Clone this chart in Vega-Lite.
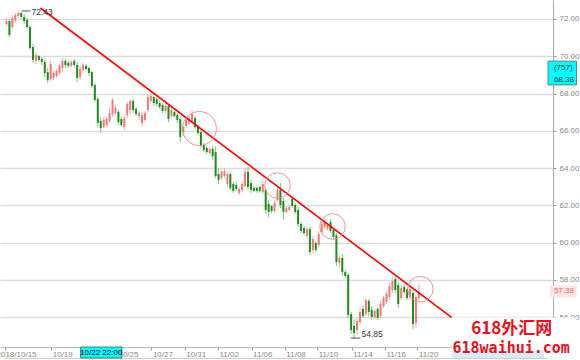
{
  "$schema": "https://vega.github.io/schema/vega-lite/v6.json",
  "width": 553,
  "height": 347,
  "autosize": {"type": "none"},
  "padding": {"left": 0, "top": 0, "right": 27, "bottom": 13},
  "background": "white",
  "config": {"view": {"stroke": null}, "font": "Liberation Sans", "axis": {"labelFont": "Liberation Sans"}},
  "datasets": {
    "candles": [
      {"i":0,"o":71.73,"h":72.05,"l":71.62,"c":71.89},{"i":1,"o":71.89,"h":72.00,"l":71.03,"c":71.14},{"i":2,"o":71.57,"h":72.21,"l":71.46,"c":72.05},{"i":3,"o":71.95,"h":72.32,"l":71.79,"c":72.21},{"i":4,"o":72.16,"h":72.43,"l":72.05,"c":72.32},
      {"i":5,"o":72.32,"h":72.38,"l":72.00,"c":72.11},{"i":6,"o":72.11,"h":72.27,"l":71.73,"c":71.89},{"i":7,"o":71.95,"h":72.05,"l":71.46,"c":71.57},{"i":8,"o":71.57,"h":71.68,"l":70.34,"c":70.44},{"i":9,"o":70.50,"h":70.66,"l":69.64,"c":69.80},
      {"i":10,"o":69.75,"h":70.17,"l":69.58,"c":70.07},{"i":11,"o":70.01,"h":70.07,"l":69.69,"c":69.80},{"i":12,"o":69.85,"h":69.96,"l":69.53,"c":69.69},{"i":13,"o":69.69,"h":69.80,"l":68.89,"c":69.10},{"i":14,"o":69.15,"h":69.37,"l":68.56,"c":68.72},
      {"i":15,"o":68.78,"h":69.80,"l":68.67,"c":69.58},{"i":16,"o":68.83,"h":69.21,"l":68.72,"c":69.10},{"i":17,"o":68.94,"h":69.32,"l":68.83,"c":69.21},{"i":18,"o":69.10,"h":69.58,"l":68.99,"c":69.48},{"i":19,"o":69.37,"h":69.91,"l":69.15,"c":69.75},
      {"i":20,"o":69.75,"h":69.85,"l":69.37,"c":69.53},{"i":21,"o":69.64,"h":69.75,"l":69.37,"c":69.48},{"i":22,"o":69.48,"h":69.80,"l":69.42,"c":69.69},{"i":23,"o":69.75,"h":69.85,"l":69.42,"c":69.53},{"i":24,"o":69.53,"h":69.69,"l":68.62,"c":68.83},
      {"i":25,"o":68.89,"h":69.48,"l":68.72,"c":69.32},{"i":26,"o":69.26,"h":69.64,"l":69.10,"c":69.53},{"i":27,"o":69.48,"h":69.58,"l":69.21,"c":69.32},{"i":28,"o":69.37,"h":69.42,"l":68.94,"c":69.10},{"i":29,"o":69.15,"h":69.21,"l":68.30,"c":68.40},
      {"i":30,"o":68.46,"h":68.56,"l":67.54,"c":67.65},{"i":31,"o":67.70,"h":67.81,"l":66.20,"c":66.42},{"i":32,"o":66.52,"h":66.74,"l":65.88,"c":66.15},{"i":33,"o":66.20,"h":66.74,"l":66.15,"c":66.58},{"i":34,"o":66.31,"h":66.74,"l":66.20,"c":66.63},
      {"i":35,"o":66.52,"h":67.22,"l":66.42,"c":66.95},{"i":36,"o":66.90,"h":67.76,"l":66.74,"c":67.65},{"i":37,"o":66.95,"h":67.38,"l":66.85,"c":67.22},{"i":38,"o":67.01,"h":67.11,"l":66.31,"c":66.47},{"i":39,"o":66.63,"h":66.74,"l":66.20,"c":66.31},
      {"i":40,"o":66.20,"h":66.85,"l":66.04,"c":66.68},{"i":41,"o":66.85,"h":67.54,"l":66.68,"c":67.44},{"i":42,"o":67.11,"h":67.70,"l":66.85,"c":67.60},{"i":43,"o":67.60,"h":67.70,"l":66.95,"c":67.11},{"i":44,"o":67.17,"h":67.28,"l":66.79,"c":66.90},
      {"i":45,"o":66.79,"h":67.06,"l":66.58,"c":66.95},{"i":46,"o":66.42,"h":67.01,"l":66.20,"c":66.85},{"i":47,"o":66.58,"h":67.06,"l":66.47,"c":66.95},{"i":48,"o":67.11,"h":67.97,"l":67.01,"c":67.81},{"i":49,"o":67.60,"h":67.97,"l":67.49,"c":67.87},
      {"i":50,"o":67.81,"h":67.87,"l":67.33,"c":67.49},{"i":51,"o":67.70,"h":67.81,"l":67.28,"c":67.44},{"i":52,"o":67.49,"h":67.60,"l":67.17,"c":67.28},{"i":53,"o":67.38,"h":67.49,"l":66.95,"c":67.06},{"i":54,"o":67.06,"h":67.44,"l":66.95,"c":67.33},
      {"i":55,"o":67.33,"h":67.44,"l":66.47,"c":66.63},{"i":56,"o":66.79,"h":67.22,"l":66.68,"c":67.11},{"i":57,"o":67.01,"h":67.06,"l":66.68,"c":66.79},{"i":58,"o":66.85,"h":66.95,"l":66.42,"c":66.58},{"i":59,"o":66.63,"h":66.74,"l":65.40,"c":65.66},
      {"i":60,"o":65.93,"h":66.31,"l":65.72,"c":66.20},{"i":61,"o":66.26,"h":66.74,"l":66.15,"c":66.58},{"i":62,"o":66.42,"h":66.79,"l":66.31,"c":66.68},{"i":63,"o":66.52,"h":67.11,"l":66.42,"c":66.90},{"i":64,"o":66.68,"h":66.79,"l":66.09,"c":66.20},
      {"i":65,"o":66.20,"h":66.31,"l":65.77,"c":65.88},{"i":66,"o":65.93,"h":66.04,"l":65.07,"c":65.18},{"i":67,"o":65.24,"h":65.34,"l":64.86,"c":64.97},{"i":68,"o":65.07,"h":65.18,"l":64.75,"c":64.86},{"i":69,"o":64.81,"h":65.13,"l":64.70,"c":65.02},
      {"i":70,"o":65.02,"h":65.18,"l":64.43,"c":64.64},{"i":71,"o":64.86,"h":65.18,"l":63.46,"c":63.57},{"i":72,"o":63.68,"h":64.00,"l":63.14,"c":63.36},{"i":73,"o":63.46,"h":63.89,"l":63.36,"c":63.79},{"i":74,"o":63.57,"h":64.00,"l":63.46,"c":63.84},
      {"i":75,"o":63.14,"h":63.79,"l":62.98,"c":63.68},{"i":76,"o":63.68,"h":63.79,"l":62.82,"c":62.93},{"i":77,"o":63.14,"h":63.25,"l":62.66,"c":62.77},{"i":78,"o":63.09,"h":63.25,"l":62.77,"c":62.87},{"i":79,"o":62.66,"h":62.98,"l":62.55,"c":62.87},
      {"i":80,"o":62.82,"h":63.30,"l":62.71,"c":63.14},{"i":81,"o":63.03,"h":63.95,"l":62.93,"c":63.79},{"i":82,"o":63.79,"h":64.05,"l":62.82,"c":62.98},{"i":83,"o":63.19,"h":63.36,"l":62.66,"c":62.82},{"i":84,"o":62.93,"h":63.03,"l":62.71,"c":62.77},
      {"i":85,"o":62.93,"h":63.03,"l":62.66,"c":62.77},{"i":86,"o":62.98,"h":63.09,"l":62.66,"c":62.77},{"i":87,"o":62.71,"h":63.36,"l":62.60,"c":63.14},{"i":88,"o":62.82,"h":62.93,"l":61.53,"c":61.75},{"i":89,"o":62.07,"h":62.28,"l":61.37,"c":61.64},
      {"i":90,"o":61.96,"h":62.01,"l":61.58,"c":61.69},{"i":91,"o":61.69,"h":62.28,"l":61.58,"c":62.12},{"i":92,"o":62.28,"h":63.03,"l":62.17,"c":62.82},{"i":93,"o":62.82,"h":63.19,"l":61.85,"c":62.01},{"i":94,"o":62.23,"h":62.39,"l":61.21,"c":61.64},
      {"i":95,"o":61.64,"h":61.96,"l":61.58,"c":61.85},{"i":96,"o":61.75,"h":62.01,"l":61.69,"c":61.91},{"i":97,"o":62.34,"h":62.44,"l":61.85,"c":61.96},{"i":98,"o":62.01,"h":62.12,"l":61.53,"c":61.64},{"i":99,"o":61.75,"h":61.91,"l":60.83,"c":60.99},
      {"i":100,"o":60.99,"h":61.10,"l":60.51,"c":60.62},{"i":101,"o":60.78,"h":60.89,"l":60.40,"c":60.51},{"i":102,"o":60.35,"h":60.83,"l":60.24,"c":60.72},{"i":103,"o":60.72,"h":60.83,"l":59.33,"c":59.49},{"i":104,"o":59.60,"h":60.35,"l":59.44,"c":60.19},
      {"i":105,"o":59.97,"h":60.08,"l":59.49,"c":59.60},{"i":106,"o":59.87,"h":60.62,"l":59.76,"c":60.46},{"i":107,"o":60.56,"h":61.15,"l":60.46,"c":60.99},{"i":108,"o":60.83,"h":61.26,"l":60.72,"c":61.10},{"i":109,"o":60.72,"h":61.05,"l":60.62,"c":60.94},
      {"i":110,"o":61.10,"h":61.26,"l":60.51,"c":60.62},{"i":111,"o":60.67,"h":60.78,"l":60.13,"c":60.30},{"i":112,"o":60.40,"h":60.51,"l":58.74,"c":58.95},{"i":113,"o":58.90,"h":59.33,"l":58.68,"c":59.17},{"i":114,"o":59.17,"h":59.38,"l":58.20,"c":58.42},
      {"i":115,"o":58.42,"h":58.52,"l":58.09,"c":58.20},{"i":116,"o":58.26,"h":58.36,"l":55.95,"c":56.11},{"i":117,"o":56.16,"h":56.27,"l":55.09,"c":55.30},{"i":118,"o":55.52,"h":55.89,"l":54.85,"c":55.14},{"i":119,"o":55.30,"h":55.95,"l":55.09,"c":55.79},
      {"i":120,"o":55.73,"h":56.48,"l":55.57,"c":56.27},{"i":121,"o":56.43,"h":56.59,"l":55.95,"c":56.05},{"i":122,"o":56.16,"h":57.02,"l":56.05,"c":56.91},{"i":123,"o":56.86,"h":56.97,"l":56.05,"c":56.27},{"i":124,"o":56.38,"h":56.59,"l":55.84,"c":56.00},
      {"i":125,"o":56.00,"h":56.43,"l":55.89,"c":56.32},{"i":126,"o":56.43,"h":56.54,"l":55.84,"c":55.95},{"i":127,"o":56.05,"h":56.86,"l":55.95,"c":56.70},{"i":128,"o":56.59,"h":57.13,"l":56.48,"c":57.02},{"i":129,"o":56.81,"h":57.40,"l":56.70,"c":57.24},
      {"i":130,"o":57.07,"h":57.82,"l":56.91,"c":57.66},{"i":131,"o":57.45,"h":58.15,"l":57.29,"c":57.93},{"i":132,"o":58.04,"h":58.20,"l":57.29,"c":57.45},{"i":133,"o":57.72,"h":57.88,"l":56.48,"c":56.70},{"i":134,"o":57.02,"h":57.72,"l":56.91,"c":57.56},
      {"i":135,"o":57.61,"h":57.72,"l":57.24,"c":57.34},{"i":136,"o":57.50,"h":57.61,"l":56.91,"c":57.02},{"i":137,"o":57.07,"h":57.66,"l":56.91,"c":57.50},{"i":138,"o":57.29,"h":57.45,"l":55.36,"c":55.62},{"i":139,"o":55.68,"h":57.18,"l":55.41,"c":57.07},
      {"i":140,"o":57.02,"h":57.77,"l":56.91,"c":57.38}
    ],
    "trend": [{"i":11.5,"v":72.59},{"i":151.17,"v":55.97}],
    "bigCircle": [{"i":65.5,"v":66.12}],
    "smallCircles": [{"i":92.0,"v":63.06},{"i":110.67,"v":60.86},{"i":140.5,"v":57.50}],
    "markers": [{"i":5.17,"i2":8.17,"v":72.43},{"i":116.8,"i2":120.2,"v":54.87}],
    "priceTexts": [{"i":8.5,"v":72.38,"t":"72.43"},{"i":120.5,"v":55.09,"t":"54.85"}],
    "cyanBox": [{"i":183.83,"i2":193.5,"v":69.74,"v2":68.46}],
    "cyanTexts": [{"i":185.83,"v":69.37,"t":"(757)"},{"i":185.83,"v":68.72,"t":"68.38"}],
    "pinkBox": [{"i":184.5,"i2":193.5,"v":57.69,"v2":57.07}],
    "pinkText": [{"i":185.83,"v":57.38,"t":"57.38"}],
    "timeBox": [{"i":25.17,"i2":39.17,"v":54.39,"v2":53.80}],
    "timeText": [{"i":32.17,"v":54.09,"t":"10/22 22:00"}],
    "blueBox": [{"i":151.17,"i2":182.5,"v":54.39,"v2":53.80}],
    "whiteBox": [{"i":151.17,"i2":193.5,"v":55.97,"v2":54.20}],
    "bottomLine": [{"i":-0.5,"i2":183.83,"v":53.77}],
    "wm1": [{"i":171.5,"v":55.38,"t":"618外汇网"}],
    "wm2": [{"i":171.33,"v":54.36,"t":"618waihui.com"}]
  },
  "encoding": {
    "x": {"field": "i", "type": "quantitative", "scale": {"domain": [-0.5, 183.83], "nice": false, "zero": false},
      "axis": {"orient": "bottom", "title": null, "grid": false,
        "values": [-0.5, 15.2, 37.5, 49.2, 60.5, 71.8, 83.2, 94.5, 105.5, 117.2, 128.5, 139.5],
        "labelExpr": "datum.value < 0 ? '2018/10/15' : datum.value < 20 ? '10/19' : datum.value < 40 ? '10/25' : datum.value < 55 ? '10/27' : datum.value < 65 ? '10/31' : datum.value < 75 ? '11/02' : datum.value < 90 ? '11/06' : datum.value < 100 ? '11/08' : datum.value < 110 ? '11/10' : datum.value < 120 ? '11/14' : datum.value < 130 ? '11/16' : '11/20'",
        "labelAlign": "left", "labelBaseline": "top",
        "labelOffset": {"condition": {"test": "datum.value < 0", "value": -9}, "value": 1},
        "labelFontSize": 8, "labelColor": "#888888", "labelPadding": 0,
        "tickSize": 3, "tickColor": "#999999", "domainColor": "#bbbbbb",
        "labelOverlap": false, "labelFlush": false, "labelBound": false}}
  },
  "layer": [
    {
      "data": {"name": "candles"},
      "mark": {"type": "rule", "strokeWidth": 1},
      "encoding": {
        "y": {"field": "l", "type": "quantitative", "scale": {"domain": [54.39, 73.02], "nice": false, "zero": false},
          "axis": {"orient": "right", "title": null, "values": [56, 58, 60, 62, 64, 66, 68, 70, 72], "format": ".2f",
            "labelFontSize": 8, "labelColor": "#888888", "labelPadding": 3, "tickSize": 3, "tickColor": "#999999",
            "domainColor": "#aaaaaa", "grid": true, "gridColor": "#dcdcdc", "gridWidth": 1.5}},
        "y2": {"field": "h"},
        "color": {"condition": {"test": "datum.c < datum.o", "value": "#7fc47f"}, "value": "#f5a8a8"}
      }
    },
    {
      "data": {"name": "candles"},
      "mark": {"type": "bar", "size": 2},
      "encoding": {
        "y": {"field": "o", "type": "quantitative", "scale": {"domain": [54.39, 73.02], "nice": false, "zero": false}},
        "y2": {"field": "c"},
        "color": {"condition": {"test": "datum.c < datum.o", "value": "#1e8c1e"}, "value": "#f07878"}
      }
    },
    {
      "data": {"name": "trend"},
      "mark": {"type": "line", "color": "#ff0000", "strokeWidth": 1.6},
      "encoding": {
        "y": {"field": "v", "type": "quantitative", "scale": {"domain": [54.39, 73.02], "nice": false, "zero": false}}
      }
    },
    {
      "data": {"name": "bigCircle"},
      "mark": {"type": "point", "shape": "circle", "filled": false, "size": 1156, "stroke": "#f08a8a", "strokeWidth": 1, "opacity": 0.9},
      "encoding": {
        "y": {"field": "v", "type": "quantitative", "scale": {"domain": [54.39, 73.02], "nice": false, "zero": false}}
      }
    },
    {
      "data": {"name": "smallCircles"},
      "mark": {"type": "point", "shape": "circle", "filled": false, "size": 650, "stroke": "#f08a8a", "strokeWidth": 1, "opacity": 0.9},
      "encoding": {
        "y": {"field": "v", "type": "quantitative", "scale": {"domain": [54.39, 73.02], "nice": false, "zero": false}}
      }
    },
    {
      "data": {"name": "markers"},
      "mark": {"type": "rule", "color": "#555555", "strokeWidth": 1},
      "encoding": {
        "x2": {"field": "i2"},
        "y": {"field": "v", "type": "quantitative", "scale": {"domain": [54.39, 73.02], "nice": false, "zero": false}}
      }
    },
    {
      "data": {"name": "priceTexts"},
      "mark": {"type": "text", "align": "left", "baseline": "middle", "fontSize": 8.5, "color": "#333333", "font": "Liberation Sans"},
      "encoding": {
        "y": {"field": "v", "type": "quantitative", "scale": {"domain": [54.39, 73.02], "nice": false, "zero": false}},
        "text": {"field": "t"}
      }
    },
    {
      "data": {"name": "cyanBox"},
      "mark": {"type": "rect", "fill": "#00ffff", "stroke": "#666666", "strokeWidth": 0.8},
      "encoding": {
        "x2": {"field": "i2"},
        "y": {"field": "v", "type": "quantitative", "scale": {"domain": [54.39, 73.02], "nice": false, "zero": false}},
        "y2": {"field": "v2"}
      }
    },
    {
      "data": {"name": "cyanTexts"},
      "mark": {"type": "text", "align": "left", "baseline": "middle", "fontSize": 8, "color": "#333333", "font": "Liberation Sans"},
      "encoding": {
        "y": {"field": "v", "type": "quantitative", "scale": {"domain": [54.39, 73.02], "nice": false, "zero": false}},
        "text": {"field": "t"}
      }
    },
    {
      "data": {"name": "pinkBox"},
      "mark": {"type": "rect", "fill": "#fde3e3"},
      "encoding": {
        "x2": {"field": "i2"},
        "y": {"field": "v", "type": "quantitative", "scale": {"domain": [54.39, 73.02], "nice": false, "zero": false}},
        "y2": {"field": "v2"}
      }
    },
    {
      "data": {"name": "pinkText"},
      "mark": {"type": "text", "align": "left", "baseline": "middle", "fontSize": 8, "color": "#e26a6a", "font": "Liberation Sans"},
      "encoding": {
        "y": {"field": "v", "type": "quantitative", "scale": {"domain": [54.39, 73.02], "nice": false, "zero": false}},
        "text": {"field": "t"}
      }
    },
    {
      "data": {"name": "bottomLine"},
      "mark": {"type": "rule", "color": "#cccccc", "strokeWidth": 1},
      "encoding": {
        "x2": {"field": "i2"},
        "y": {"field": "v", "type": "quantitative", "scale": {"domain": [54.39, 73.02], "nice": false, "zero": false}}
      }
    },
    {
      "data": {"name": "timeBox"},
      "mark": {"type": "rect", "fill": "#00ffff", "stroke": "#555555", "strokeWidth": 0.8},
      "encoding": {
        "x2": {"field": "i2"},
        "y": {"field": "v", "type": "quantitative", "scale": {"domain": [54.39, 73.02], "nice": false, "zero": false}},
        "y2": {"field": "v2"}
      }
    },
    {
      "data": {"name": "timeText"},
      "mark": {"type": "text", "align": "center", "baseline": "middle", "fontSize": 8, "color": "#000000", "font": "Liberation Sans"},
      "encoding": {
        "y": {"field": "v", "type": "quantitative", "scale": {"domain": [54.39, 73.02], "nice": false, "zero": false}},
        "text": {"field": "t"}
      }
    },
    {
      "data": {"name": "blueBox"},
      "mark": {"type": "rect", "fill": "#d8ecf8"},
      "encoding": {
        "x2": {"field": "i2"},
        "y": {"field": "v", "type": "quantitative", "scale": {"domain": [54.39, 73.02], "nice": false, "zero": false}},
        "y2": {"field": "v2"}
      }
    },
    {
      "data": {"name": "whiteBox"},
      "mark": {"type": "rect", "fill": "#ffffff"},
      "encoding": {
        "x2": {"field": "i2"},
        "y": {"field": "v", "type": "quantitative", "scale": {"domain": [54.39, 73.02], "nice": false, "zero": false}},
        "y2": {"field": "v2"}
      }
    },
    {
      "data": {"name": "wm1"},
      "mark": {"type": "text", "align": "center", "baseline": "middle", "fontSize": 17, "fontWeight": "bold", "color": "#e8101c", "font": "Noto Sans CJK SC"},
      "encoding": {
        "y": {"field": "v", "type": "quantitative", "scale": {"domain": [54.39, 73.02], "nice": false, "zero": false}},
        "text": {"field": "t"}
      }
    },
    {
      "data": {"name": "wm2"},
      "mark": {"type": "text", "align": "center", "baseline": "middle", "fontSize": 15, "fontWeight": "bold", "color": "#e8101c", "font": "DejaVu Sans Mono"},
      "encoding": {
        "y": {"field": "v", "type": "quantitative", "scale": {"domain": [54.39, 73.02], "nice": false, "zero": false}},
        "text": {"field": "t"}
      }
    }
  ]
}
